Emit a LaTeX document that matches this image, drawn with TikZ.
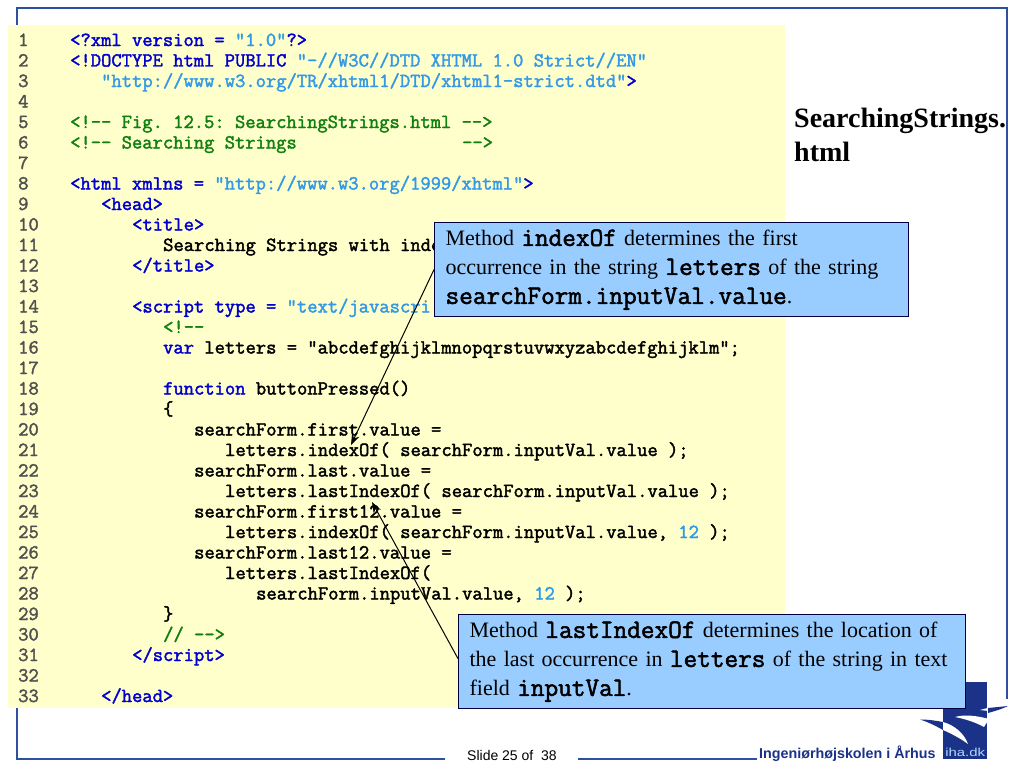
\documentclass[tikz,border=0pt]{standalone}
\usepackage{fontspec}
\setmainfont{Liberation Serif}
\setsansfont{Liberation Sans}
\newfontfamily\codefont{Latin Modern Mono}[FakeBold=2]
\usetikzlibrary{arrows.meta}

\definecolor{framecol}{HTML}{2F4FA0}
\definecolor{sheetcol}{HTML}{FFFFCC}
\definecolor{boxcol}{HTML}{99CCFF}
\definecolor{tagcol}{HTML}{0000CC}
\definecolor{strcol}{HTML}{3399E6}
\definecolor{remcol}{HTML}{108010}
\definecolor{numcol}{HTML}{505050}
\definecolor{logocol}{HTML}{1A3288}

\def\charw{10.33}
\newcommand{\tg}[1]{\textcolor{tagcol}{#1}}
\newcommand{\st}[1]{\textcolor{strcol}{#1}}
\newcommand{\rem}[1]{\textcolor{remcol}{#1}}
\newcommand{\cd}[1]{{\codefont\fontsize{26.5}{29}\selectfont #1}}

\tikzstyle{codeline}=[anchor=base west, inner sep=0pt, font=\codefont\frenchspacing\fontsize{20}{20}\selectfont]
\tikzstyle{callout}=[anchor=north west, draw=black!75!blue, fill=boxcol, line width=1.2pt, inner xsep=11pt, inner ysep=0pt, align=left, font=\frenchspacing\fontsize{22}{29}\selectfont]
\tikzstyle{title}=[anchor=base west, inner sep=0pt, font=\bfseries\fontsize{28}{34}\selectfont]
\tikzstyle{footer}=[anchor=base west, inner sep=0pt]

\begin{document}
\begin{tikzpicture}[x=1pt, y=-1pt, >={Stealth[length=11pt, width=8pt]}]
  \useasboundingbox (0,0) rectangle (1024,768);
  \fill [white] (0,0) rectangle (1024,768);

  % slide frame
  \draw [framecol, line width=1.4pt] (17,30) -- (17,8) -- (1007,8) -- (1007,699);
  \draw [framecol, line width=1.4pt] (17,705) -- (17,759) -- (445,759);
  \draw [framecol, line width=1.4pt] (578,759) -- (757,759);

  % code sheet
  \fill [sheetcol] (8,25) rectangle (785,708);

  % code lines with their numbers
  \foreach \cols/\code [count=\y] in {
    0/{\tg{<?xml version = }\st{"1.0"}\tg{?>}},
    0/{\tg{<!DOCTYPE html PUBLIC }\st{"-//W3C//DTD XHTML 1.0 Strict//EN"}},
    3/{\st{"http://www.w3.org/TR/xhtml1/DTD/xhtml1-strict.dtd"}\tg{>}},
    0/{},
    0/{\rem{<!-- Fig. 12.5: SearchingStrings.html -->}},
    0/{\rem{<!-- Searching Strings\hspace{165.3pt}-->}},
    0/{},
    0/{\tg{<html xmlns = }\st{"http://www.w3.org/1999/xhtml"}\tg{>}},
    3/{\tg{<head>}},
    6/{\tg{<title>}},
    9/{Searching Strings with inde},
    6/{\tg{</title>}},
    0/{},
    6/{\tg{<script type = }\st{"text/javascri}},
    9/{\rem{<!--}},
    9/{\tg{var} letters = "abcdefghijklmnopqrstuvwxyzabcdefghijklm";},
    0/{},
    9/{\tg{function} buttonPressed()},
    9/{\{},
    12/{searchForm.first.value =},
    15/{letters.indexOf( searchForm.inputVal.value );},
    12/{searchForm.last.value =},
    15/{letters.lastIndexOf( searchForm.inputVal.value );},
    12/{searchForm.first12.value =},
    15/{letters.indexOf( searchForm.inputVal.value, \st{12} );},
    12/{searchForm.last12.value =},
    15/{letters.lastIndexOf(},
    18/{searchForm.inputVal.value, \st{12} );},
    9/{\}},
    9/{\rem{// -->}},
    6/{\tg{</script>}},
    0/{},
    3/{\tg{</head>}}}
  {
    \node [codeline, numcol] (num-\y) at (18, 46 + 20.5*\y - 20.5) {\y};
    \node [codeline] (code-\y) at (70 + \charw*\cols, 46 + 20.5*\y - 20.5) {\code};
  }

  % file name
  \node [title] (name-1) at (794,127) {SearchingStrings.};
  \node [title] (name-2) at (794,161) {html};

  % logo
  \fill [logocol] (943,708) rectangle (987,759);
  \fill [logocol] (965,682) rectangle (987,708);
  \fill [logocol] (920,719.5) .. controls (930,719.5) and (937,721) .. (943,722) -- (943,730) .. controls (936,726) and (928,722) .. cycle;
  \fill [white] (943,722) .. controls (954,725) and (964,733) .. (968,744) .. controls (960,738) and (950,733) .. (943,730) -- cycle;
  \fill [white] (955,717) .. controls (965,714) and (978,716) .. (989,719) -- (984,727) .. controls (975,722) and (965,719) .. cycle;
  \fill [white] (980,710) -- (995,706) -- (989,711) -- cycle;
  \fill [logocol] (988,708) -- (1008,706) .. controls (1002,709) and (995,711) .. (988,713) -- cycle;
  \node [footer, font=\sffamily\fontsize{11.5}{14}\selectfont, text=boxcol!80!white, xscale=1.3, transform shape] (logotext) at (945,756) {iha.dk};

  % footer
  \node [footer, font=\sffamily\fontsize{14}{16}\selectfont] (slide) at (467,760) {Slide 25 of\ \ 38};
  \node [footer, font=\sffamily\bfseries\fontsize{14.3}{16}\selectfont, text=logocol] (school) at (759,758) {Ingeniørhøjskolen i Århus};

  % callouts
  \node [callout, text width=452pt, minimum height=94pt] (callA) at (434,222)
    {Method \cd{indexOf} determines the first\\occurrence in the string \cd{letters} of the string\\\cd{searchForm.inputVal.value}.};
  \node [callout, text width=485pt, minimum height=94pt] (callB) at (458,614)
    {Method \cd{lastIndexOf} determines the location of\\the last occurrence in \cd{letters} of the string in text\\field \cd{inputVal}.};

  % callout arrows
  \coordinate (tipA) at (351,445);
  \coordinate (tipB) at (372,502);
  \draw [->, black, line width=1pt] (callA.west) -- (tipA);
  \draw [->, black, line width=1pt] ([yshift=3pt]callB.west) -- (tipB);
\end{tikzpicture}
\end{document}
